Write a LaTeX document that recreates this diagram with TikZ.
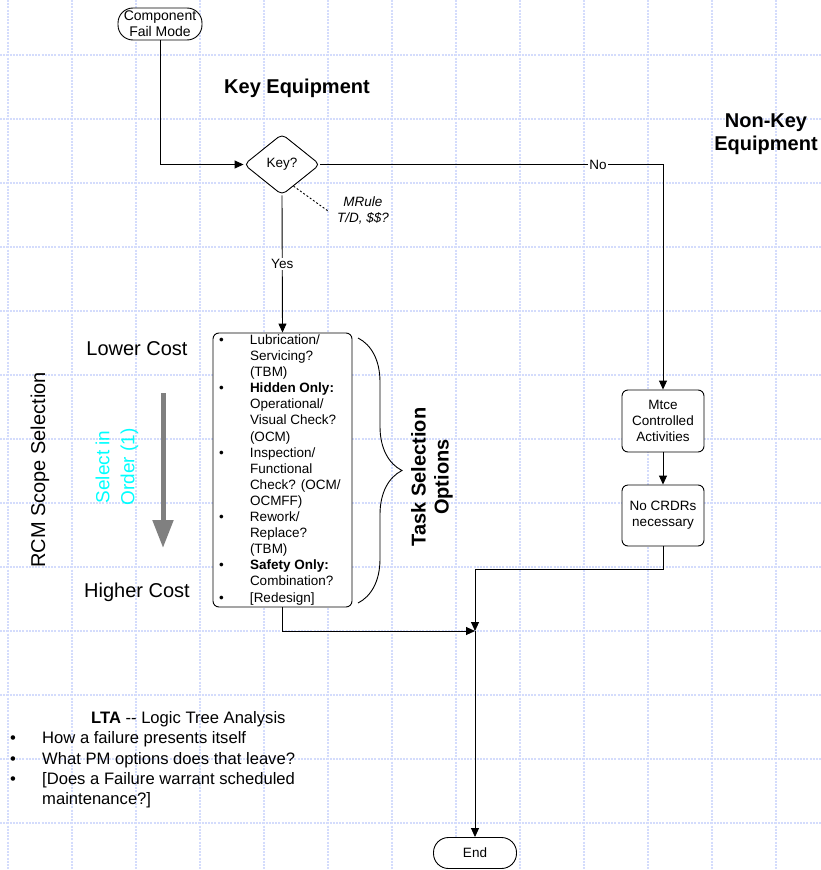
\documentclass[tikz,border=0pt]{standalone}
\usepackage{fontspec}
\setmainfont{Liberation Sans}
\usetikzlibrary{shapes.geometric,arrows.meta,decorations.pathreplacing,calc}
\definecolor{gridblue}{RGB}{212,220,252}
\definecolor{arrgray}{RGB}{128,128,128}
\definecolor{cyantext}{RGB}{0,255,255}
\begin{document}
\begin{tikzpicture}[x=1pt,y=-1pt,
  gridline/.style={draw=gridblue, line width=1.4pt, dash pattern=on 2pt off 1.2pt},
  conn/.style={draw=black, line width=0.9pt},
  arr/.style={conn, -{Triangle[length=9pt,width=8pt]}},
  boxstyle/.style={draw=black, line width=0.9pt, fill=white, rounded corners=6pt, align=center, inner sep=0pt},
  smalltext/.style={font=\fontsize{13.5}{16.3}\selectfont},
  bigbold/.style={font=\fontsize{20}{23}\selectfont\bfseries, align=center},
  bigtext/.style={font=\fontsize{20}{23}\selectfont, align=center},
  lbl/.style={smalltext, fill=white, inner sep=1pt}
]
\useasboundingbox (0,0) rectangle (821,870);
% grid
\foreach \x in {8,72,...,776} \draw[gridline] (\x,0) -- (\x,870);
\foreach \y in {55,119,...,823} \draw[gridline] (0,\y) -- (821,\y);

% nodes
\node[boxstyle, rounded corners=15pt, minimum width=84pt, minimum height=32pt,
      font=\fontsize{14}{16}\selectfont] (cfm) at (160,24) {Component\\Fail Mode};
\node[bigbold] (keyeq) at (297,88) {Key Equipment};
\node[bigbold] (nonkey) at (766,134) {Non-Key\\Equipment};
\node[draw=black, line width=0.9pt, fill=white, shape=diamond, rounded corners=5pt,
      minimum width=76pt, minimum height=61pt, inner sep=0pt, smalltext] (key) at (282,164.5) {Key?};
\node[smalltext, font=\fontsize{13.5}{16}\selectfont\itshape, align=center] (mrule) at (363,210) {MRule\\T/D, \$\$?};
\coordinate (mr) at (328,211);

\node[boxstyle, align=left, minimum width=139pt, minimum height=274pt, inner xsep=5pt,
      font=\fontsize{13.5}{16.1}\selectfont] (list) at (282.5,470) {%
\begin{tabular}{@{}p{31pt}@{}p{96pt}@{}}
\textbullet & Lubrication/\\
 & Servicing?\\
 & (TBM)\\
\textbullet & \textbf{Hidden Only:}\\
 & Operational/\\
 & Visual Check?\\
 & (OCM)\\
\textbullet & Inspection/\\
 & Functional\\
 & Check? (OCM/\\
 & OCMFF)\\
\textbullet & Rework/\\
 & Replace?\\
 & (TBM)\\
\textbullet & \textbf{Safety Only:}\\
 & Combination?\\
\textbullet & [Redesign]
\end{tabular}};

\coordinate (br1) at (358,338);
\coordinate (br2) at (358,603);
\draw[line width=0.9pt, decorate, decoration={brace, amplitude=44pt}] (br1) -- (br2);
\node[bigbold, rotate=90] (tso) at (432,477) {Task Selection\\Options};

\node[bigtext] (lower) at (137,349) {Lower Cost};
\node[bigtext] (higher) at (137,592) {Higher Cost};
\node[bigtext, rotate=90] (rcm) at (40,470) {RCM Scope Selection};
\node[font=\fontsize{19}{25}\selectfont, text=cyantext, align=center, rotate=90] (sel) at (117,467) {Select in\\Order (1)};
\coordinate (ga1) at (163,393);
\coordinate (ga2) at (163,548);
\draw[draw=arrgray, line width=5pt, -{Triangle[length=28pt,width=20pt,fill=arrgray]}] (ga1) -- (ga2);

\node[boxstyle, minimum width=82pt, minimum height=62pt, smalltext] (mtce) at (663,421) {Mtce\\Controlled\\Activities};
\node[boxstyle, minimum width=82pt, minimum height=61pt, smalltext] (crdr) at (663,515.5) {No CRDRs\\necessary};
\node[boxstyle, rounded corners=15pt, minimum width=83pt, minimum height=31pt, smalltext] (endn) at (475,853) {End};
\coordinate (j) at (475,631);

\node[anchor=north west, inner sep=0pt, font=\fontsize{16.6}{20.3}\selectfont] (lta) at (10,709) {%
\begin{tabular}{@{}p{32pt}@{}l@{}}
\multicolumn{2}{@{}l@{}}{\hspace{81pt}\textbf{LTA} {-}{-} Logic Tree Analysis}\\
\textbullet & How a failure presents itself\\
\textbullet & What PM options does that leave?\\
\textbullet & [Does a Failure warrant scheduled\\
 & maintenance?]
\end{tabular}};

% connectors
\draw[arr] (cfm.south) |- (key.west);
\draw[arr] (key.east) -| (mtce.north) node[lbl, pos=0.405] {No};
\draw[conn, dash pattern=on 2pt off 2pt] ($(key.south)!0.3!(key.east)$) -- (mr);
\draw[arr] (key.south) -- (list.north) node[lbl, midway] {Yes};
\draw[arr] (mtce.south) -- (crdr.north);
\draw[arr] (crdr.south) -- ++(0,23) -| (j);
\draw[arr] (list.south) |- (j);
\draw[arr] (j) -- (endn.north);
\end{tikzpicture}
\end{document}
